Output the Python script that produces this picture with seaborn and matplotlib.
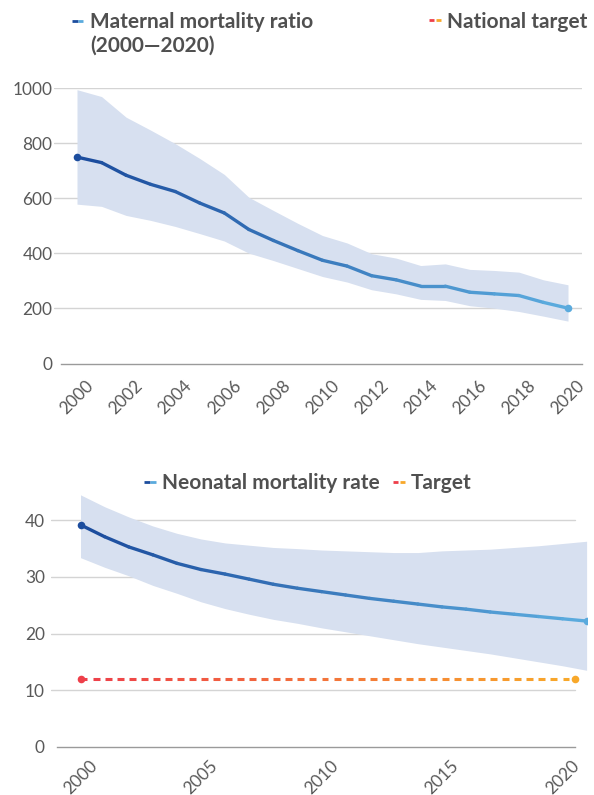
import numpy as np
import pandas as pd
import seaborn as sns
import matplotlib.pyplot as plt
from matplotlib.colors import LinearSegmentedColormap, to_hex
from matplotlib.lines import Line2D

# maternal mortality ratio (per 100k live births), with uncertainty band
mmr_years = list(range(2000, 2021))
mmr_value = [750, 730, 684, 651, 625, 583, 547, 487, 447, 410, 375,
             354, 319, 304, 281, 281, 259, 253, 247, 222, 201]
mmr_upper = [995, 970, 895, 848, 799, 745, 687, 604, 556, 509, 465,
             438, 399, 383, 356, 362, 342, 338, 332, 304, 286]
mmr_lower = [579, 571, 538, 520, 498, 472, 445, 401, 374, 345, 316,
             296, 268, 253, 233, 229, 210, 201, 189, 172, 154]
mmr_ticks = list(range(2000, 2021, 2))

# neonatal mortality rate (per 1000 live births)
nmr_years = list(range(2000, 2022))
nmr_value = [39.2, 37.1, 35.3, 33.9, 32.4, 31.3, 30.5, 29.6, 28.7, 28.0, 27.4,
             26.8, 26.2, 25.7, 25.2, 24.7, 24.3, 23.8, 23.4, 23.0, 22.6, 22.2]
nmr_upper = [44.5, 42.4, 40.6, 39.0, 37.7, 36.7, 36.0, 35.6, 35.2, 35.0, 34.75,
             34.6, 34.45, 34.3, 34.3, 34.6, 34.75, 34.9, 35.2, 35.5, 35.9, 36.3]
nmr_lower = [33.4, 31.7, 30.2, 28.5, 27.1, 25.6, 24.4, 23.4, 22.5, 21.8, 21.0,
             20.3, 19.6, 18.9, 18.2, 17.6, 17.0, 16.4, 15.7, 15.0, 14.3, 13.5]
nmr_ticks = list(range(2000, 2021, 5))

target_years = [2000, 2020.5]
target_value = [12, 12]

BAND = "#d7e0f0"
BLUE_DARK, BLUE_LIGHT = "#1c4d9e", "#5aaadd"
RED, ORANGE = "#ee3f4a", "#f8a82a"
GRID = "#d4d4d4"
AXIS = "#9a9a9a"
TEXT = "#595959"
LEGEND_TEXT = "#505050"

W, H = 594, 795


def fx(px):
    return px / W


def fy(py):
    return 1 - py / H


def gradient_line(ax, years, values, c0, c1, lw=2.4):
    """Draw a line whose colour fades from c0 to c1, one segment per interval."""
    cmap = LinearSegmentedColormap.from_list("grad", [c0, c1])
    n = len(years) - 1
    rows = []
    for i in range(n):
        rows.append((years[i], values[i], f"s{i:02d}"))
        rows.append((years[i + 1], values[i + 1], f"s{i:02d}"))
    seg = pd.DataFrame(rows, columns=["year", "value", "seg"])
    pal = {f"s{i:02d}": to_hex(cmap(i / max(n - 1, 1))) for i in range(n)}
    sns.lineplot(data=seg, x="year", y="value", hue="seg", palette=pal,
                 estimator=None, sort=False, legend=False, lw=lw,
                 solid_capstyle="round", solid_joinstyle="round", ax=ax)
    sns.scatterplot(x=[years[0]], y=[values[0]], color=c0, s=30,
                    linewidth=0, zorder=5, ax=ax)
    sns.scatterplot(x=[years[-1]], y=[values[-1]], color=c1, s=30,
                    linewidth=0, zorder=5, ax=ax)


def gradient_dashes(ax, years, values, c0, c1, period=0.5, on=0.58, lw=2.2):
    """Dashed line with a colour fade; each dash is its own short segment."""
    cmap = LinearSegmentedColormap.from_list("grad", [c0, c1])
    x0, x1 = years[0], years[-1]
    n = int(round((x1 - x0) / period))
    step = (x1 - x0) / n
    rows = []
    for k in range(n):
        a = x0 + k * step
        b = a + on * step
        rows.append((a, np.interp(a, years, values), f"d{k:02d}"))
        rows.append((b, np.interp(b, years, values), f"d{k:02d}"))
    dash = pd.DataFrame(rows, columns=["year", "value", "dash"])
    pal = {f"d{k:02d}": to_hex(cmap(k / max(n - 1, 1))) for k in range(n)}
    sns.lineplot(data=dash, x="year", y="value", hue="dash", palette=pal,
                 estimator=None, sort=False, legend=False, lw=lw,
                 solid_capstyle="butt", ax=ax)
    sns.scatterplot(x=[years[0]], y=[values[0]], color=c0, s=30,
                    linewidth=0, zorder=5, ax=ax)
    sns.scatterplot(x=[years[-1]], y=[values[-1]], color=c1, s=30,
                    linewidth=0, zorder=5, ax=ax)


def style_axis(ax, xlim, ylim, xticks, yticks, spine_from, grid_to_frac,
               xpad, ypad):
    ax.set_xlim(*xlim)
    ax.set_ylim(*ylim)
    for side in ["top", "right", "left"]:
        ax.spines[side].set_visible(False)
    ax.spines["bottom"].set_color(AXIS)
    ax.spines["bottom"].set_linewidth(1.0)
    ax.spines["bottom"].set_bounds(spine_from, xlim[0] + grid_to_frac * (xlim[1] - xlim[0]))
    ax.grid(False)
    for v in yticks[1:]:
        ax.axhline(v, xmin=0, xmax=grid_to_frac, color=GRID, lw=1.0, zorder=0)
    ax.set_xticks(xticks)
    ax.set_yticks(yticks)
    ax.set_xticklabels([str(t) for t in xticks], rotation=45, ha="center")
    ax.tick_params(axis="x", direction="in", length=2.5, width=0.8,
                   color=AXIS, pad=xpad, labelsize=12.4, labelcolor=TEXT)
    ax.tick_params(axis="y", length=0, pad=ypad, labelsize=12.4,
                   labelcolor=TEXT)
    ax.set_xlabel("")
    ax.set_ylabel("")
    ax.set_facecolor("white")


sns.set_theme(style="white")
plt.rcParams["font.family"] = ["Lato", "DejaVu Sans"]

fig = plt.figure(figsize=(W / 100, H / 100), dpi=100)
fig.patch.set_facecolor("white")

# ---- top: maternal mortality ratio ----
ax1 = fig.add_axes([fx(54), fy(363.5), fx(582) - fx(54), (363.5 - 88.3) / H])
ax1.fill_between(mmr_years, mmr_lower, mmr_upper, color=BAND, lw=0, zorder=1)
gradient_line(ax1, mmr_years, mmr_value, BLUE_DARK, BLUE_LIGHT)
px_per_yr = 24.55
x_left = 2000 - (77 - 54) / px_per_yr
x_right = 2000 + (582 - 77) / px_per_yr
style_axis(ax1, (x_left, x_right), (0, 1000), mmr_ticks,
           [0, 200, 400, 600, 800, 1000],
           spine_from=2000 - (77 - 61) / px_per_yr, grid_to_frac=1.0,
           xpad=10, ypad=1)

# ---- bottom: neonatal mortality rate ----
ax2 = fig.add_axes([fx(50.5), fy(746.7), fx(587) - fx(50.5), 254.7 / H])
ax2.fill_between(nmr_years, nmr_lower, nmr_upper, color=BAND, lw=0, zorder=1)
gradient_line(ax2, nmr_years, nmr_value, BLUE_DARK, BLUE_LIGHT)
gradient_dashes(ax2, target_years, target_value, RED, ORANGE)
px_per_yr = 24.1
x_left = 2000 - (80.5 - 50.5) / px_per_yr
x_right = 2000 + (587 - 80.5) / px_per_yr
style_axis(ax2, (x_left, x_right), (0, 45), nmr_ticks, [0, 10, 20, 30, 40],
           spine_from=2000 - (80.5 - 57) / px_per_yr,
           grid_to_frac=(575 - 50.5) / (587 - 50.5),
           xpad=7.5, ypad=4)

# ---- legends drawn as figure text ----
def legend_blue(x0, x1, y):
    mid = (x0 + x1) / 2
    fig.add_artist(Line2D([fx(x0), fx(mid)], [fy(y), fy(y)], color=BLUE_DARK,
                          lw=2.0, solid_capstyle="butt"))
    fig.add_artist(Line2D([fx(mid), fx(x1)], [fy(y), fy(y)], color=BLUE_LIGHT,
                          lw=2.0, solid_capstyle="butt"))


def legend_target(x0, x1, y):
    w = (x1 - x0) * 0.38
    fig.add_artist(Line2D([fx(x0), fx(x0 + w)], [fy(y), fy(y)], color=RED,
                          lw=2.0, solid_capstyle="butt"))
    fig.add_artist(Line2D([fx(x1 - w), fx(x1)], [fy(y), fy(y)], color=ORANGE,
                          lw=2.0, solid_capstyle="butt"))


legend_font = dict(fontsize=15, fontweight="bold", color=LEGEND_TEXT,
                   va="baseline", ha="left")

legend_blue(72, 83, 20.7)
fig.text(fx(90.5), fy(28), "Maternal mortality ratio", **legend_font)
fig.text(fx(90.5), fy(51.5), "(2000—2020)", **legend_font)
legend_target(429, 441, 20.3)
fig.text(fx(446.7), fy(28), "National target", **legend_font)

legend_blue(144, 156, 481.7)
fig.text(fx(161.7), fy(489), "Neonatal mortality rate", **legend_font)
legend_target(393, 405, 481.7)
fig.text(fx(410.6), fy(489), "Target", **legend_font)

fig.savefig("out.png", dpi=100, facecolor="white")
